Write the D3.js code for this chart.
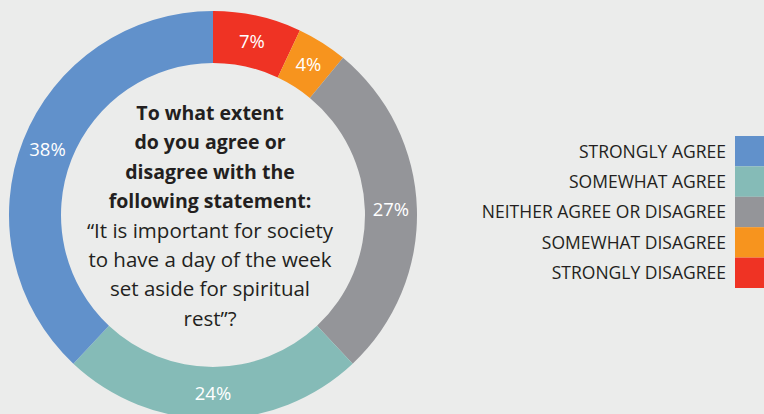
<!DOCTYPE html>
<html>
<head>
<meta charset="utf-8">
<script src="https://cdn.jsdelivr.net/npm/d3@7"></script>
<style>
  html, body { margin: 0; padding: 0; background: #ebeceb; }
  svg { display: block; }
  text { font-family: "Open Sans", "Noto Sans", sans-serif; }
</style>
</head>
<body>
<div id="chart"></div>
<script>
// Data
const categories = ['STRONGLY AGREE', 'SOMEWHAT AGREE', 'NEITHER AGREE OR DISAGREE', 'SOMEWHAT DISAGREE', 'STRONGLY DISAGREE'];
const values = [38, 24, 27, 4, 7];
const colors = ['#6191cb', '#85bbb7', '#949599', '#f7941e', '#ef3324'];
// clockwise order from 12 o'clock, as drawn
const ringOrder = [4, 3, 2, 1, 0];
const questionBold = ['To what extent', 'do you agree or', 'disagree with the', 'following statement:'];
const questionText = ['\u201cIt is important for society', 'to have a day of the week', 'set aside for spiritual', 'rest\u201d?'];

const W = 764, H = 414;
const cx = 213, cy = 215;
const outerR = 204, innerR = 152;

const svg = d3.select('#chart')
    .append('svg')
    .attr('width', W)
    .attr('height', H);

svg.append('rect')
    .attr('width', W)
    .attr('height', H)
    .attr('fill', '#ebeceb');

const g = svg.append('g')
    .attr('transform', `translate(${cx},${cy})`);

const pie = d3.pie()
    .sort(null)
    .value(i => values[i]);

const arc = d3.arc()
    .innerRadius(innerR)
    .outerRadius(outerR);

const labelArc = d3.arc()
    .innerRadius((innerR + outerR) / 2)
    .outerRadius((innerR + outerR) / 2);

const arcs = pie(ringOrder);

g.selectAll('.slice')
    .data(arcs)
    .enter()
    .append('path')
    .attr('class', 'slice')
    .attr('d', arc)
    .attr('fill', d => colors[d.data]);

g.selectAll('.pct')
    .data(arcs)
    .enter()
    .append('text')
    .attr('class', 'pct')
    .attr('transform', d => `translate(${labelArc.centroid(d)})`)
    .attr('text-anchor', 'middle')
    .attr('dy', '0.36em')
    .attr('fill', '#fff')
    .style('font-size', '18.5px')
    .text(d => values[d.data] + '%');

// Question in the middle
const lines = questionBold.map(t => ({ t, bold: true }))
    .concat(questionText.map(t => ({ t, bold: false })));

g.selectAll('.q')
    .data(lines)
    .enter()
    .append('text')
    .attr('class', 'q')
    .attr('x', -3)
    .attr('y', (d, i) => -95 + i * 29.4)
    .attr('text-anchor', 'middle')
    .attr('fill', '#231f20')
    .style('font-size', d => d.bold ? '19.5px' : '20.5px')
    .style('font-weight', d => d.bold ? 700 : 400)
    .text(d => d.t);

// Legend
const legendY = d3.scaleBand()
    .domain(categories)
    .range([136, 288]);

const legend = svg.append('g');

legend.selectAll('.sw')
    .data(categories)
    .enter()
    .append('rect')
    .attr('class', 'sw')
    .attr('x', 735)
    .attr('y', d => legendY(d))
    .attr('width', 40)
    .attr('height', legendY.bandwidth())
    .attr('fill', (d, i) => colors[i]);

legend.selectAll('.lt')
    .data(categories)
    .enter()
    .append('text')
    .attr('class', 'lt')
    .attr('x', 726)
    .attr('y', d => legendY(d) + legendY.bandwidth() / 2)
    .attr('dy', '0.36em')
    .attr('text-anchor', 'end')
    .attr('fill', '#231f20')
    .style('font-size', '17.5px')
    .text(d => d);
</script>
</body>
</html>
